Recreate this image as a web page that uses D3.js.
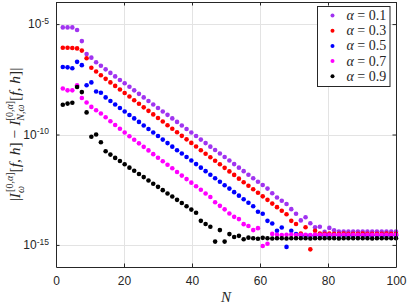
<!DOCTYPE html>
<html>
<head>
<meta charset="utf-8">
<script src="https://cdn.jsdelivr.net/npm/d3@7"></script>
<style>
  body { margin: 0; background: #fff; }
  svg { display: block; }
</style>
</head>
<body>
<script>
// N values on the x axis
const nValues = [2, 3.4, 4.8, 6.2, 7.6, 9, 10.4, 11.8, 13.2, 14.6,
  16, 17.4, 18.8, 20.2, 21.6, 23, 24.4, 25.8, 27.2, 28.6,
  30, 31.4, 32.8, 34.2, 35.6, 37, 38.4, 39.8, 41.2, 42.6,
  44, 45.4, 46.8, 48.2, 49.6, 51, 52.4, 53.8, 55.2, 56.6,
  58, 59.4, 60.8, 62.2, 63.6, 65, 66.4, 67.8, 69.2, 70.6,
  72, 73.4, 74.8, 76.2, 77.6, 79, 80.4, 81.8, 83.2, 84.6,
  86, 87.4, 88.8, 90.2, 91.6, 93, 94.4, 95.8, 97.2, 98.6, 100];

// log10 of the error, one list per alpha
const logErrA01 = [-5.15, -5.15, -5.15, -5.27, -5.77, -6.36, -6.52, -6.73, -6.89, -7.05,
  -7.21, -7.37, -7.53, -7.68, -7.84, -8.00, -8.16, -8.32, -8.48, -8.64,
  -8.80, -8.96, -9.11, -9.27, -9.43, -9.59, -9.75, -9.91, -10.07, -10.23,
  -10.39, -10.55, -10.70, -10.86, -11.02, -11.18, -11.34, -11.50, -11.66, -11.82,
  -11.98, -12.14, -12.29, -12.45, -12.66, -12.85, -13.00, -13.15, -13.38, -13.59,
  -13.89, -13.75, -14.02, -14.20, -14.18, -14.41, -14.23, -14.34, -14.40, -14.39,
  -14.40, -14.40, -14.39, -14.40, -14.40, -14.40, -14.39, -14.40, -14.40, -14.40, -14.40];

const logErrA03 = [-6.07, -6.07, -6.08, -6.10, -6.20, -6.55, -6.98, -7.15, -7.32, -7.48,
  -7.64, -7.80, -7.96, -8.12, -8.28, -8.45, -8.61, -8.77, -8.93, -9.09,
  -9.25, -9.41, -9.58, -9.74, -9.90, -10.06, -10.22, -10.38, -10.54, -10.71,
  -10.87, -11.03, -11.19, -11.35, -11.51, -11.67, -11.83, -12.00, -12.16, -12.32,
  -12.48, -12.64, -12.80, -12.96, -13.13, -13.29, -13.45, -13.61, -13.91, -14.05,
  -14.48, -14.20, -15.20, -14.36, -14.48, -14.50, -14.49, -14.50, -14.50, -14.49,
  -14.50, -14.50, -14.50, -14.49, -14.50, -14.50, -14.50, -14.50, -14.49, -14.50, -14.50];

const logErrA05 = [-6.94, -6.96, -7.00, -6.71, -6.86, -7.77, -7.64, -8.05, -8.11, -8.32,
  -8.48, -8.64, -8.80, -8.96, -9.12, -9.27, -9.43, -9.59, -9.75, -9.91,
  -10.07, -10.23, -10.39, -10.55, -10.71, -10.86, -11.02, -11.18, -11.34, -11.50,
  -11.66, -11.82, -11.98, -12.14, -12.30, -12.45, -12.61, -12.77, -12.93, -13.09,
  -13.25, -13.50, -13.59, -13.91, -14.03, -14.36, -14.21, -15.09, -14.36, -14.51,
  -14.57, -14.57, -14.58, -14.57, -14.57, -14.57, -14.58, -14.57, -14.57, -14.57,
  -14.57, -14.58, -14.57, -14.57, -14.57, -14.57, -14.57, -14.58, -14.57, -14.57, -14.57];

const logErrA07 = [-7.92, -8.00, -8.00, -7.77, -8.35, -8.55, -8.75, -8.90, -9.05, -9.22,
  -9.40, -9.57, -9.74, -9.91, -10.08, -10.24, -10.40, -10.56, -10.72, -10.89,
  -11.05, -11.21, -11.37, -11.53, -11.70, -11.86, -12.02, -12.18, -12.34, -12.50,
  -12.67, -12.83, -13.07, -13.23, -13.39, -13.58, -13.73, -13.83, -14.06, -14.14,
  -14.33, -14.24, -15.05, -14.95, -14.50, -14.54, -14.55, -14.54, -14.53, -14.55,
  -14.54, -14.54, -14.55, -14.54, -14.54, -14.54, -14.54, -14.55, -14.54, -14.54,
  -14.54, -14.54, -14.54, -14.55, -14.54, -14.54, -14.54, -14.54, -14.54, -14.55, -14.54];

const logErrA09 = [-8.65, -8.60, -8.56, -7.85, -8.08, -9.00, -10.10, -10.00, -10.35, -10.76,
  -10.91, -11.06, -11.20, -11.35, -11.50, -11.64, -11.79, -11.93, -12.08, -12.23,
  -12.37, -12.52, -12.67, -12.81, -12.96, -13.10, -13.25, -13.40, -13.54, -13.91,
  -14.05, -14.18, -14.85, -14.33, -14.85, -14.51, -14.64, -14.59, -14.74, -14.67,
  -14.70, -14.72, -14.68, -14.70, -14.71, -14.70, -14.70, -14.71, -14.70, -14.70,
  -14.70, -14.70, -14.71, -14.70, -14.70, -14.70, -14.70, -14.70, -14.71, -14.70,
  -14.70, -14.70, -14.70, -14.70, -14.70, -14.71, -14.70, -14.70, -14.70, -14.70, -14.70];

const seriesLabels = ["0.1", "0.3", "0.5", "0.7", "0.9"];
const seriesColors = ["#a033f0", "#ff0000", "#0000ff", "#ff00ff", "#000000"];
const seriesData = [logErrA01, logErrA03, logErrA05, logErrA07, logErrA09];

const xTicks = [0, 20, 40, 60, 80, 100];
const yTicks = [1e-15, 1e-10, 1e-5];

const width = 407, height = 304;
const plotLeft = 56, plotRight = 396, plotTop = 2, plotBottom = 267;

const svg = d3.select("body").append("svg")
  .attr("width", width)
  .attr("height", height);

const x = d3.scaleLinear().domain([0, 100]).range([plotLeft, plotRight]);
const y = d3.scaleLog().domain([1e-16, 1e-4]).range([plotBottom, plotTop]);

// grid
const grid = svg.append("g").attr("stroke", "#e3e3e3").attr("stroke-width", 1);
grid.selectAll(".gx").data(xTicks.slice(1, -1)).enter().append("line")
  .attr("x1", d => Math.round(x(d)) + 0.5).attr("x2", d => Math.round(x(d)) + 0.5)
  .attr("y1", plotTop).attr("y2", plotBottom);
grid.selectAll(".gy").data(yTicks).enter().append("line")
  .attr("y1", d => Math.round(y(d)) + 0.5).attr("y2", d => Math.round(y(d)) + 0.5)
  .attr("x1", plotLeft).attr("x2", plotRight);

// points
seriesData.forEach((vals, i) => {
  svg.append("g")
    .selectAll("circle")
    .data(vals)
    .enter()
    .append("circle")
    .attr("cx", (d, j) => x(nValues[j]))
    .attr("cy", d => y(Math.pow(10, d)))
    .attr("r", 2.3)
    .attr("fill", seriesColors[i]);
});

// axes
const axisColor = "#262626";
function styleAxis(g) {
  g.select(".domain").attr("stroke", axisColor).attr("stroke-width", 1);
  g.selectAll(".tick line").attr("stroke", axisColor).attr("stroke-width", 1);
  g.selectAll("text").attr("fill", axisColor)
    .attr("font-family", "Liberation Sans, Arial, sans-serif").attr("font-size", 12);
}

svg.append("g")
  .attr("transform", `translate(0,${plotBottom})`)
  .call(d3.axisBottom(x).tickValues(xTicks).tickSizeInner(-3.5).tickSizeOuter(0).tickPadding(9))
  .call(styleAxis);

svg.append("g")
  .attr("transform", `translate(0,${plotTop})`)
  .call(d3.axisTop(x).tickValues(xTicks).tickSizeInner(-3.5).tickSizeOuter(0).tickFormat(""))
  .call(styleAxis);

svg.append("g")
  .attr("transform", `translate(${plotRight},0)`)
  .call(d3.axisRight(y).tickValues(yTicks).tickSizeInner(-3.5).tickSizeOuter(0).tickFormat(""))
  .call(styleAxis);

const yAxis = svg.append("g")
  .attr("transform", `translate(${plotLeft},0)`)
  .call(d3.axisLeft(y).tickValues(yTicks).tickSizeInner(-3.5).tickSizeOuter(0).tickPadding(7).tickFormat(""))
  .call(styleAxis);

yAxis.selectAll(".tick text").each(function (d) {
  const t = d3.select(this);
  t.text("10");
  t.append("tspan")
    .attr("dy", "-0.55em")
    .attr("font-size", 8.5)
    .text(String(Math.round(Math.log10(d))));
});

// axis labels
svg.append("text")
  .attr("x", (plotLeft + plotRight) / 2)
  .attr("y", 302)
  .attr("text-anchor", "middle")
  .attr("font-family", "Liberation Serif, serif")
  .attr("font-style", "italic")
  .attr("font-size", 15)
  .attr("fill", axisColor)
  .text("N");

const ylab = svg.append("text")
  .attr("transform", `translate(20,${(plotTop + plotBottom) / 2}) rotate(-90)`)
  .attr("text-anchor", "middle")
  .attr("font-family", "Liberation Serif, serif")
  .attr("font-size", 15.5)
  .attr("fill", axisColor);

ylab.append("tspan").text("|");
ylab.append("tspan").attr("font-style", "italic").text("I");
ylab.append("tspan").attr("font-size", 10).attr("font-style", "italic").attr("dy", 3.5).text("ω");
ylab.append("tspan").attr("font-size", 10).attr("dx", -6).attr("dy", -10.5).text("[0,");
ylab.append("tspan").attr("font-size", 10).attr("font-style", "italic").text("α");
ylab.append("tspan").attr("font-size", 10).text("]");
ylab.append("tspan").attr("dy", 7).text("[");
ylab.append("tspan").attr("font-style", "italic").text("f, h");
ylab.append("tspan").text("] − ");
ylab.append("tspan").attr("font-style", "italic").text("I");
ylab.append("tspan").attr("font-size", 10).attr("font-style", "italic").attr("dy", 3.5).text("N,ω");
ylab.append("tspan").attr("font-size", 10).attr("dx", -16).attr("dy", -10.5).text("[0,");
ylab.append("tspan").attr("font-size", 10).attr("font-style", "italic").text("α");
ylab.append("tspan").attr("font-size", 10).text("]");
ylab.append("tspan").attr("dy", 7).text("[");
ylab.append("tspan").attr("font-style", "italic").text("f, h");
ylab.append("tspan").text("]|");

// legend
const legend = svg.append("g");
legend.append("rect")
  .attr("x", 317.5).attr("y", 6.5).attr("width", 72.5).attr("height", 80)
  .attr("fill", "#fff").attr("stroke", axisColor).attr("stroke-width", 1);

const rows = legend.selectAll(".row").data(seriesLabels).enter().append("g")
  .attr("transform", (d, i) => `translate(0,${15.5 + i * 15.2})`);
rows.append("circle")
  .attr("cx", 332.5).attr("cy", 0).attr("r", 2)
  .attr("fill", (d, i) => seriesColors[i]);
const lt = rows.append("text")
  .attr("x", 346.5).attr("y", 4.5)
  .attr("font-family", "Liberation Serif, serif")
  .attr("font-size", 14)
  .attr("fill", axisColor);
lt.append("tspan").attr("font-style", "italic").text("α");
lt.append("tspan").text(d => " = " + d);
</script>
</body>
</html>
